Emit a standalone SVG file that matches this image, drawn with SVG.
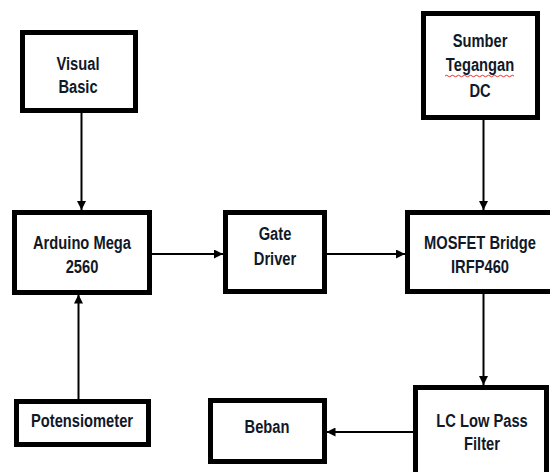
<svg xmlns="http://www.w3.org/2000/svg" width="550" height="472" viewBox="0 0 550 472">
<style>
.box{fill:#fff;stroke:#000;stroke-width:5}
.t{font-family:"Liberation Sans",Arial,sans-serif;font-weight:bold;font-size:17.5px;fill:#111827;text-anchor:middle}
.c{fill:none;stroke:#000;stroke-width:2;marker-end:url(#ah)}
</style>
<defs>
<marker id="ah" markerUnits="userSpaceOnUse" markerWidth="9" markerHeight="9" refX="9" refY="4.5" orient="auto">
<path d="M0,0 L9,4.5 L0,9 z" fill="#000"/>
</marker>
</defs>
<rect width="550" height="472" fill="#fff"/>
<g id="connectors">
<path class="c" d="M81.5,112 V210"/>
<path class="c" d="M78.5,399 V294.5"/>
<path class="c" d="M152,254 H223"/>
<path class="c" d="M327,254 H405"/>
<path class="c" d="M483.5,120 V210"/>
<path class="c" d="M483.5,293 V385"/>
<path class="c" d="M413,432 H326.5"/>
</g>
<g id="visual-basic">
<rect class="box" x="22.5" y="32.5" width="113" height="78"/>
<text class="t" transform="translate(78,70) scale(0.84,1)">Visual</text>
<text class="t" transform="translate(78,93) scale(0.84,1)">Basic</text>
</g>
<g id="sumber-tegangan">
<rect class="box" x="423.5" y="13.5" width="114" height="104"/>
<text class="t" transform="translate(480,46.5) scale(0.84,1)">Sumber</text>
<text class="t" transform="translate(480,71) scale(0.84,1)">Tegangan</text>
<path d="M445,76 q1.5,-1.5 3,0 t3,0 t3,0 t3,0 t3,0 t3,0 t3,0 t3,0 t3,0 t3,0 t3,0 t3,0 t3,0 t3,0 t3,0 t3,0 t3,0 t3,0 t3,0 t3,0 t3,0 t3,0 t3,0" fill="none" stroke="#e03030" stroke-width="1"/>
<text class="t" transform="translate(480,97) scale(0.84,1)">DC</text>
</g>
<g id="arduino">
<rect class="box" x="14.5" y="212.5" width="135" height="80"/>
<text class="t" transform="translate(82,249) scale(0.84,1)">Arduino Mega</text>
<text class="t" transform="translate(82,273) scale(0.84,1)">2560</text>
</g>
<g id="gate-driver">
<rect class="box" x="225.5" y="212.5" width="99" height="79"/>
<text class="t" transform="translate(275,240) scale(0.84,1)">Gate</text>
<text class="t" transform="translate(275,265) scale(0.84,1)">Driver</text>
</g>
<g id="mosfet">
<rect class="box" x="407.5" y="212.5" width="160" height="79"/>
<text class="t" transform="translate(480,249) scale(0.84,1)">MOSFET Bridge</text>
<text class="t" transform="translate(480,273) scale(0.84,1)">IRFP460</text>
</g>
<g id="potensiometer">
<rect class="box" x="16.5" y="401.5" width="132" height="43"/>
<text class="t" transform="translate(82,427) scale(0.84,1)">Potensiometer</text>
</g>
<g id="beban">
<rect class="box" x="210.5" y="400.5" width="114" height="61"/>
<text class="t" transform="translate(267,433) scale(0.84,1)">Beban</text>
</g>
<g id="lc-filter">
<rect class="box" x="415.5" y="387.5" width="131" height="100"/>
<text class="t" transform="translate(482,427) scale(0.84,1)">LC Low Pass</text>
<text class="t" transform="translate(482,450) scale(0.84,1)">Filter</text>
</g>
</svg>
